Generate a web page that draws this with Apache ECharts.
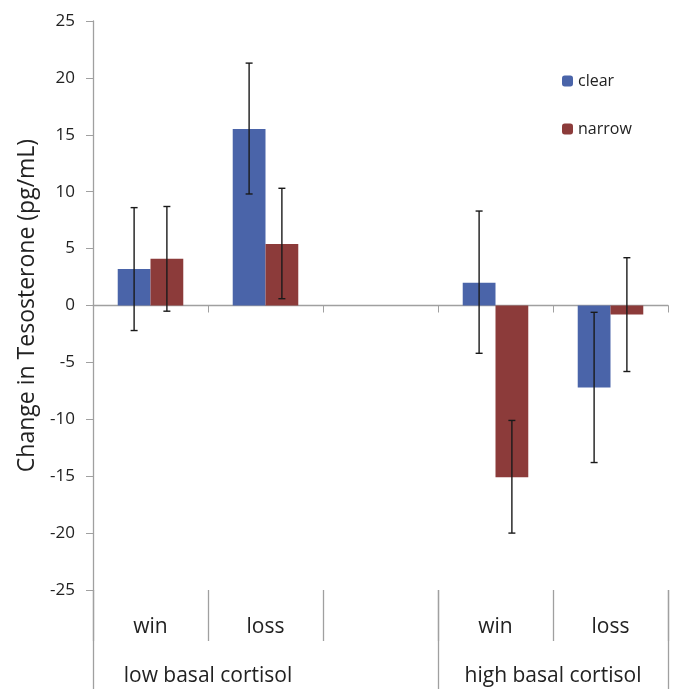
<!DOCTYPE html>
<html><head><meta charset="utf-8">
<script src="https://cdn.jsdelivr.net/npm/echarts@6/dist/echarts.min.js"></script>
<style>html,body{margin:0;padding:0;background:#fff}#c{width:677px;height:689px}</style>
</head><body><div id="c"></div>
<script>
var categories = ['win', 'loss', '', 'win', 'loss'];
var groupLabels = ['', '', 'low basal cortisol', '', '', '', '', '', 'high basal cortisol', '', ''];
var seriesNames = ['clear', 'narrow'];
var clearValues = [3.2, 15.5, null, 2.0, -7.2];
var narrowValues = [4.1, 5.4, null, -15.1, -0.8];
var clearLow = [-2.2, 9.8, null, -4.2, -13.8];
var clearHigh = [8.6, 21.3, null, 8.3, -0.6];
var narrowLow = [-0.5, 0.6, null, -20.0, -5.8];
var narrowHigh = [8.7, 10.3, null, -10.1, 4.2];
var yTicks = [-25, -20, -15, -10, -5, 0, 5, 10, 15, 20, 25];

var colors = ['#4a64a9', '#8c3b3a'];
var font = '"Open Sans", sans-serif';
var catGap = 0.43;

function errData(low, high) {
  var d = [];
  for (var i = 0; i < low.length; i++) if (low[i] != null) d.push([i, low[i], high[i]]);
  return d;
}
function errSeries(idx, low, high) {
  return {
    type: 'custom', xAxisIndex: 0, yAxisIndex: 0, z: 10,
    data: errData(low, high),
    renderItem: function (params, api) {
      var c = api.value(0);
      var band = api.size([1, 0])[0];
      var bw = band * (1 - catGap) / 2;
      var p1 = api.coord([c, api.value(1)]);
      var p2 = api.coord([c, api.value(2)]);
      var x = p1[0] + (idx - 0.5) * bw;
      var cap = 3.5;
      var st = { stroke: '#1a1a1a', lineWidth: 1.4 };
      return { type: 'group', children: [
        { type: 'line', shape: { x1: x, y1: p1[1], x2: x, y2: p2[1] }, style: st },
        { type: 'line', shape: { x1: x - cap, y1: p1[1], x2: x + cap, y2: p1[1] }, style: st },
        { type: 'line', shape: { x1: x - cap, y1: p2[1], x2: x + cap, y2: p2[1] }, style: st }
      ]};
    }
  };
}

var chart = echarts.init(document.getElementById('c'));
chart.setOption({
  animation: false,
  backgroundColor: '#fff',
  textStyle: { fontFamily: font },
  grid: { left: 93, right: 9, top: 21, bottom: 99, containLabel: false },
  legend: {
    data: seriesNames, orient: 'vertical', left: 557, top: 68,
    itemWidth: 11, itemHeight: 11, itemGap: 32,
    textStyle: { fontSize: 16, color: '#222', fontFamily: font }
  },
  xAxis: [
    { type: 'category', data: categories, position: 'bottom',
      axisLine: { onZero: true, lineStyle: { color: '#a0a0a0', width: 1.3 } },
      axisTick: { show: true, alignWithLabel: false, interval: 0, length: 7, lineStyle: { color: '#a0a0a0' } },
      axisLabel: { show: false }, splitLine: { show: false } },
    { type: 'category', data: categories, position: 'bottom', offset: 0,
      axisLine: { show: false, onZero: false },
      axisTick: { show: true, interval: 0, length: 51, lineStyle: { color: '#a0a0a0', width: 1.3 } },
      axisLabel: { show: true, interval: 0, margin: 27, fontSize: 21, color: '#222', fontFamily: font } },
    { type: 'category', data: groupLabels, position: 'bottom', offset: 0, boundaryGap: false,
      axisLine: { show: false, onZero: false },
      axisTick: { show: true, length: 100, lineStyle: { color: '#a0a0a0', width: 1.3 },
        interval: function (i) { return i === 0 || i === 6 || i === 10; } },
      axisLabel: { show: true, margin: 76, fontSize: 21, color: '#222', fontFamily: font,
        interval: function (i) { return i === 2 || i === 8; } } }
  ],
  yAxis: {
    type: 'value', min: yTicks[0], max: yTicks[yTicks.length - 1], interval: 5,
    name: 'Change in Tesosterone (pg/mL)', nameLocation: 'middle', nameGap: 54,
    nameTextStyle: { fontSize: 23, color: '#222', fontFamily: font },
    axisLine: { show: true, lineStyle: { color: '#a0a0a0', width: 1.3 } },
    axisTick: { show: true, length: 7, lineStyle: { color: '#a0a0a0' } },
    axisLabel: { fontSize: 17, color: '#222', margin: 18, fontFamily: font },
    splitLine: { show: false }
  },
  series: [
    { name: seriesNames[0], type: 'bar', data: clearValues, xAxisIndex: 0,
      itemStyle: { color: colors[0] }, barGap: '0%', barCategoryGap: (catGap * 100) + '%' },
    { name: seriesNames[1], type: 'bar', data: narrowValues, xAxisIndex: 0,
      itemStyle: { color: colors[1] }, barGap: '0%', barCategoryGap: (catGap * 100) + '%' },
    errSeries(0, clearLow, clearHigh),
    errSeries(1, narrowLow, narrowHigh)
  ]
});
</script></body></html>
